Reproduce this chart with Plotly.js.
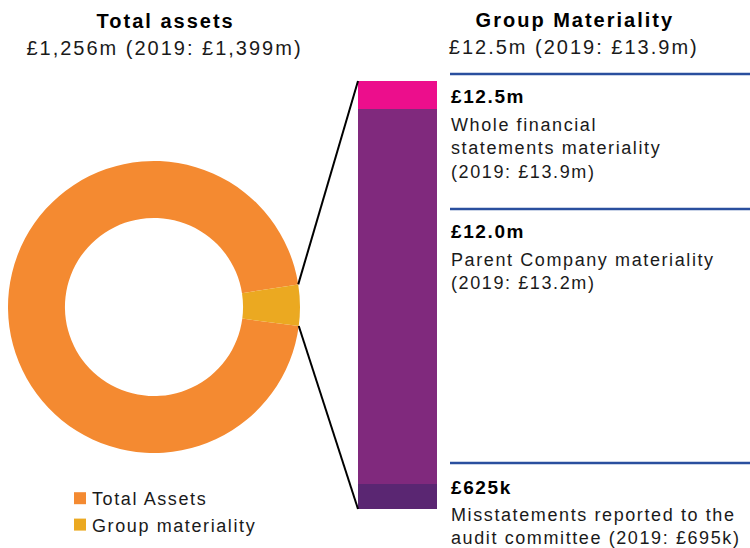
<!DOCTYPE html>
<html>
<head>
<meta charset="utf-8">
<script src="https://cdn.plot.ly/plotly-3.0.1.min.js"></script>
<style>
  html, body { margin: 0; padding: 0; background: #fff; }
  #chart { width: 750px; height: 548px; }
  svg text { letter-spacing: 1.6px; }
  svg text.ttl { letter-spacing: 2px; }
</style>
</head>
<body>
<div id="chart"></div>
<script>
// ---- data ----
const pieLabels = ['Total Assets', 'Group materiality'];
const pieValues = [1256, 60];            // wedge drawn larger than scale, as in picture
const pieColors = ['#F48A31', '#EBA921'];

const barNames  = ['£625k', '£12.0m', '£12.5m'];
const barValues = [0.73, 10.95, 0.82];   // stacked segment heights as drawn (bottom to top)
const barColors = ['#5A2672', '#80297D', '#EC0E8C'];

const leftTitle  = 'Total assets';
const leftSub    = '£1,256m (2019: £1,399m)';
const rightTitle = 'Group Materiality';
const rightSub   = '£12.5m (2019: £13.9m)';

const notesHead = ['£12.5m', '£12.0m', '£625k'];
const notesBody = [
  'Whole financial<br>statements materiality<br>(2019: £13.9m)',
  'Parent Company materiality<br>(2019: £13.2m)',
  'Misstatements reported to the<br>audit committee (2019: £695k)'
];

// ---- geometry (px) ----
const W = 750, H = 548;
const FONT = '"Liberation Sans", Arial, Helvetica, sans-serif';
const px = x => x / W;
const py = y => 1 - y / H;

const pieBox = {x0: 8, x1: 300, y0: 161, y1: 453};
const barBox = {x0: 358, x1: 437, y0: 81, y1: 509};
const ROT = 97.5;

const total = pieValues.reduce((a, b) => a + b, 0);
const gmStart = ROT + 360 * pieValues[0] / total;  // clockwise from 12 o'clock
const gmEnd = ROT + 360;
const cx = (pieBox.x0 + pieBox.x1) / 2, cy = (pieBox.y0 + pieBox.y1) / 2;
const R = (pieBox.x1 - pieBox.x0) / 2;
const pt = a => { const r = a * Math.PI / 180; return [cx + R * Math.sin(r), cy - R * Math.cos(r)]; };
const pA = pt(gmStart), pB = pt(gmEnd);

const barTotal = barValues.reduce((a, b) => a + b, 0);

const traces = [{
  type: 'pie',
  labels: pieLabels,
  values: pieValues,
  marker: {colors: pieColors, line: {width: 0}},
  hole: 0.61,
  sort: false,
  direction: 'clockwise',
  rotation: ROT,
  textinfo: 'none',
  hoverinfo: 'none',
  domain: {x: [px(pieBox.x0), px(pieBox.x1)], y: [py(pieBox.y1), py(pieBox.y0)]},
  showlegend: true
}];
barValues.forEach((v, i) => traces.push({
  type: 'bar', x: [0], y: [v], name: barNames[i], width: 1,
  marker: {color: barColors[i], line: {width: 0}},
  showlegend: false, hoverinfo: 'none', xaxis: 'x', yaxis: 'y'
}));

const blueLines = [74, 209, 463];
const shapes = blueLines.map(y => ({
  type: 'line', xref: 'paper', yref: 'paper', x0: px(450), x1: px(750), y0: py(y), y1: py(y),
  line: {color: '#2A4F9E', width: 2.5}
}));
shapes.push({type: 'line', xref: 'paper', yref: 'paper',
  x0: px(pA[0]), y0: py(pA[1]), x1: px(barBox.x0), y1: py(barBox.y0), line: {color: '#000', width: 2}});
shapes.push({type: 'line', xref: 'paper', yref: 'paper',
  x0: px(pB[0]), y0: py(pB[1]), x1: px(barBox.x0), y1: py(barBox.y1), line: {color: '#000', width: 2}});

const ann = (text, x, y, opts) => Object.assign({
  text, x: px(x), y: py(y), xref: 'paper', yref: 'paper', showarrow: false,
  font: {family: FONT, size: 20, color: '#1a1a1a'}, xanchor: 'center', yanchor: 'middle'
}, opts || {});

const annotations = [
  ann('<b>' + leftTitle + '</b>', 165, 21, {font: {family: FONT, size: 20, color: '#000'}}),
  ann(leftSub, 164, 48),
  ann('<b>' + rightTitle + '</b>', 575, 20, {font: {family: FONT, size: 20, color: '#000'}}),
  ann(rightSub, 574, 47),
];
const headY = [97, 232, 487];
const bodyY = [149, 271, 526];
notesHead.forEach((h, i) => {
  annotations.push(ann('<b>' + h + '</b>', 449, headY[i], {xanchor: 'left', font: {family: FONT, size: 19, color: '#000'}}));
  annotations.push(ann(notesBody[i], 449, bodyY[i], {xanchor: 'left', align: 'left', font: {family: FONT, size: 18, color: '#1a1a1a'}}));
});

const layout = {
  width: W, height: H,
  margin: {l: 0, r: 0, t: 0, b: 0, pad: 0},
  paper_bgcolor: '#fff', plot_bgcolor: 'rgba(0,0,0,0)',
  barmode: 'stack',
  xaxis: {domain: [px(barBox.x0), px(barBox.x1)], range: [-0.5, 0.5], visible: false, fixedrange: true},
  yaxis: {domain: [py(barBox.y1), py(barBox.y0)], range: [0, barTotal], visible: false, fixedrange: true},
  showlegend: true,
  legend: {x: px(52), y: py(480), xanchor: 'left', yanchor: 'top', bgcolor: 'rgba(0,0,0,0)',
           font: {family: FONT, size: 18, color: '#1a1a1a'}, traceorder: 'normal', itemclick: false},
  shapes, annotations
};

Plotly.newPlot('chart', traces, layout, {staticPlot: true, displayModeBar: false}).then(gd => {
  // wider tracking for the four header lines
  gd.querySelectorAll('.annotation-text').forEach((t, i) => { if (i < 4) t.classList.add('ttl'); });
  // legend swatches sit close to their labels, as in the reference
  gd.querySelectorAll('.legend .legendpoints').forEach(g => g.setAttribute('transform', 'translate(8,0)'));
});
</script>
</body>
</html>
